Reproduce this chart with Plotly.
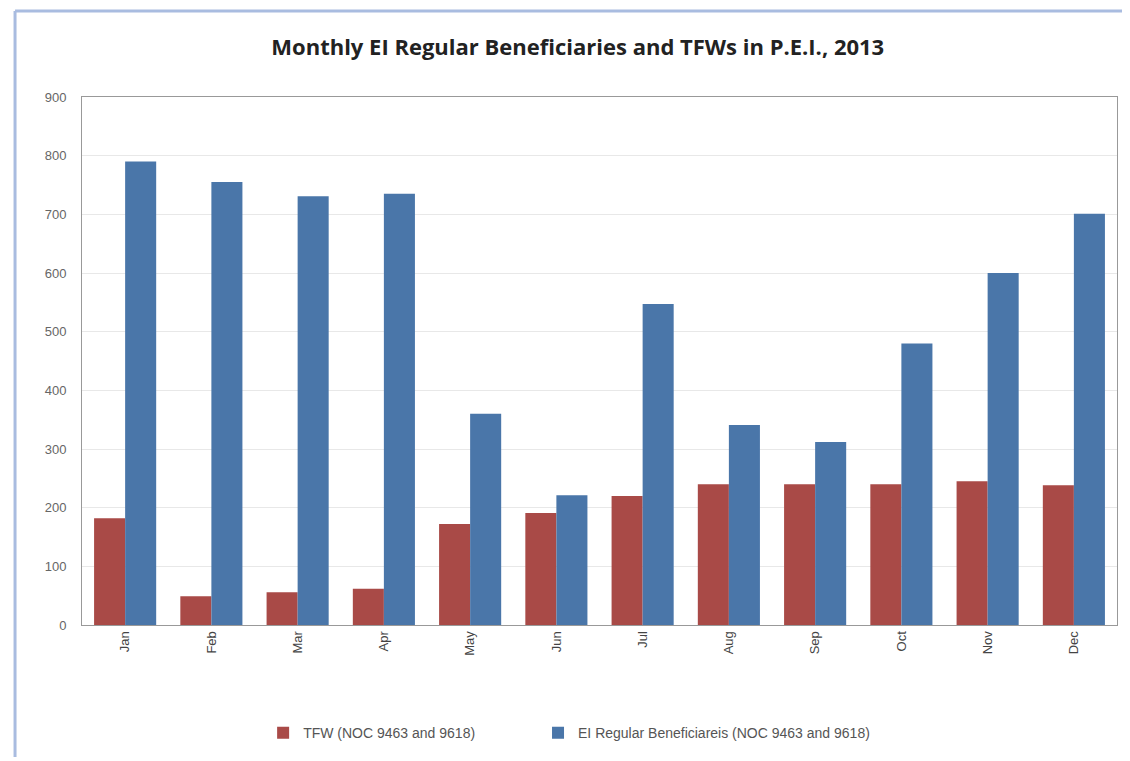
import plotly.graph_objects as go

months = ["Jan", "Feb", "Mar", "Apr", "May", "Jun", "Jul", "Aug", "Sep", "Oct", "Nov", "Dec"]
tfw = [182, 49, 56, 62, 172, 191, 220, 240, 240, 240, 245, 238]
ei_regular = [790, 755, 731, 735, 360, 221, 547, 341, 312, 480, 600, 701]
y_ticks = [0, 100, 200, 300, 400, 500, 600, 700, 800, 900]

fig = go.Figure()
fig.add_trace(go.Bar(x=months, y=tfw, name="TFW (NOC 9463 and 9618)",
                     marker=dict(color="#A94A47", line=dict(width=0)), legend="legend",
                     showlegend=True))
fig.add_trace(go.Bar(x=months, y=ei_regular, name="EI Regular Beneficiareis (NOC 9463 and 9618)",
                     marker=dict(color="#4A76A9", line=dict(width=0)), legend="legend2",
                     showlegend=True))

legend_common = dict(orientation="h", yanchor="top", y=-0.1745, xanchor="left",
                     font=dict(size=14, color="#555"), itemwidth=30, bgcolor="rgba(0,0,0,0)")

fig.update_layout(
    width=1122, height=753,
    showlegend=True,
    margin=dict(l=74, r=13, t=89, b=131),
    paper_bgcolor="white", plot_bgcolor="white",
    barmode="group", bargap=0.28, bargroupgap=0,
    title=dict(text="<b>Monthly EI Regular Beneficiaries and TFWs in P.E.I., 2013</b>",
               x=0.479, xanchor="center", xref="paper", y=0.948, yanchor="middle",
               font=dict(family="Open Sans, Liberation Sans, sans-serif", size=22, color="#222")),
    font=dict(family="Liberation Sans, sans-serif", color="#555"),
    xaxis=dict(tickangle=-90, tickfont=dict(size=13, color="#444"), showline=True,
               linecolor="#999", mirror=True, ticks="", showgrid=False),
    yaxis=dict(range=[0, 900], tickvals=y_ticks, tickfont=dict(size=13, color="#666"),
               showgrid=True, gridcolor="#E8E8E8", showline=True, linecolor="#999",
               mirror=True, ticks="", zeroline=False, ticklabelstandoff=12),
    legend=dict(x=0.175, **legend_common),
    legend2=dict(x=0.4406, **legend_common),
    shapes=[
        dict(type="line", xref="paper", yref="paper", x0=-0.0647, x1=1.02, y0=1.163, y1=1.163,
             line=dict(color="#A9BCE0", width=3)),
        dict(type="line", xref="paper", yref="paper", x0=-0.0647, x1=-0.0647, y0=1.163, y1=-0.25,
             line=dict(color="#A9BCE0", width=3)),
    ],
)

fig.write_html("out.html")
